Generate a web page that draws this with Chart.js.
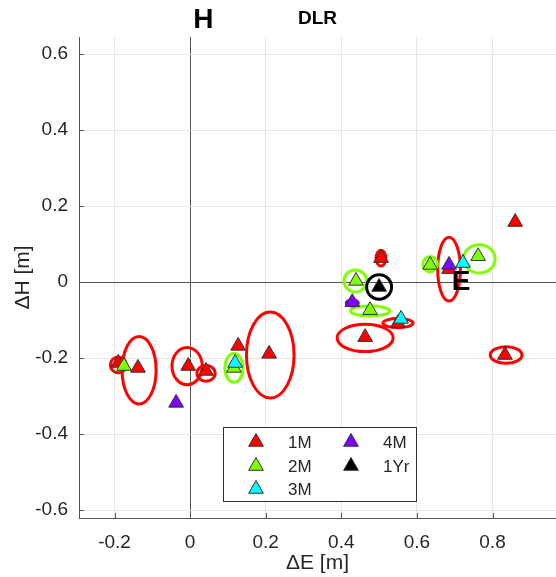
<!DOCTYPE html>
<html>
<head>
<meta charset="utf-8">
<script src="https://cdn.jsdelivr.net/npm/chart.js@4.4.0/dist/chart.umd.min.js"></script>
<style>
  html, body { margin: 0; padding: 0; background: #fff; }
  canvas { display: block; }
</style>
</head>
<body>
<canvas id="dlrChart" width="556" height="577"></canvas>
<script>
// series names / colours
const seriesNames = ['1M', '2M', '3M', '4M', '1Yr'];
const seriesColors = ['#ff0000', '#80ff00', '#00ffff', '#8000ff', '#000000'];

// station offsets [m]
const x1M = [0.860, 0.505, 0.463, 0.833, 0.685, 0.550, -0.190, -0.138, -0.005, 0.042, 0.127, 0.209];
const y1M = [0.158, 0.063, -0.145, -0.192, 0.034, -0.108, -0.213, -0.226, -0.221, -0.234, -0.168, -0.189];
const x2M = [-0.175, 0.116, 0.439, 0.476, 0.635, 0.762];
const y2M = [-0.221, -0.226, 0.003, -0.074, 0.045, 0.068];
const x3M = [0.119, 0.558, 0.722];
const y3M = [-0.213, -0.097, 0.050];
const x4M = [-0.037, 0.429, 0.685];
const y4M = [-0.318, -0.053, 0.045];
const x1Yr = [0.500];
const y1Yr = [-0.013];

// error ellipses: series index, centre, semi-axes [m]
const ellSeries = [0, 0, 0, 0, 0, 0, 0, 0, 0, 0, 1, 1, 1, 1, 1, 3, 4];
const ellX  = [0.463, 0.836, 0.685, 0.550, -0.190, -0.135, -0.008, 0.042, 0.212, 0.505, 0.116, 0.437, 0.476, 0.635, 0.765, 0.429, 0.500];
const ellY  = [-0.147, -0.192, 0.034, -0.108, -0.218, -0.232, -0.221, -0.240, -0.192, 0.063, -0.226, 0.003, -0.076, 0.047, 0.061, -0.055, -0.013];
const ellRx = [0.074, 0.042, 0.030, 0.040, 0.021, 0.045, 0.040, 0.024, 0.063, 0.013, 0.024, 0.030, 0.052, 0.019, 0.042, 0.016, 0.033];
const ellRy = [0.036, 0.022, 0.084, 0.012, 0.021, 0.089, 0.049, 0.021, 0.113, 0.021, 0.038, 0.029, 0.013, 0.020, 0.037, 0.008, 0.032];

const xTicks = [-0.2, 0, 0.2, 0.4, 0.6, 0.8];
const yTicks = [-0.6, -0.4, -0.2, 0, 0.2, 0.4, 0.6];

const FONT = "'Liberation Sans', Arial, Helvetica, sans-serif";
const TEXT = '#262626';

const xs = [x1M, x2M, x3M, x4M, x1Yr];
const ys = [y1M, y2M, y3M, y4M, y1Yr];

const datasets = seriesNames.map((name, i) => ({
  label: name,
  data: xs[i].map((x, j) => ({ x: x, y: ys[i][j] })),
  backgroundColor: seriesColors[i],
  borderColor: '#333333',
  borderWidth: 1,
  pointStyle: 'triangle',
  pointRadius: 8.5,
  pointHoverRadius: 8.5,
  order: seriesNames.length - i
}));

const ellipsePlugin = {
  id: 'ellipses',
  beforeDatasetsDraw(chart) {
    const { ctx, scales: { x, y }, chartArea } = chart;
    ctx.save();
    ctx.beginPath();
    ctx.rect(chartArea.left, chartArea.top, chartArea.right - chartArea.left, chartArea.bottom - chartArea.top);
    ctx.clip();
    // inward tick marks
    ctx.strokeStyle = '#555';
    ctx.lineWidth = 1;
    xTicks.forEach(v => {
      const px = Math.round(x.getPixelForValue(v)) + 0.5;
      ctx.beginPath();
      ctx.moveTo(px, chartArea.bottom);
      ctx.lineTo(px, chartArea.bottom - 5);
      ctx.stroke();
    });
    yTicks.forEach(v => {
      const py = Math.round(y.getPixelForValue(v)) + 0.5;
      ctx.beginPath();
      ctx.moveTo(chartArea.left, py);
      ctx.lineTo(chartArea.left + 5, py);
      ctx.stroke();
    });
    ctx.lineWidth = 3;
    ellX.forEach((cx, i) => {
      const px = x.getPixelForValue(cx);
      const py = y.getPixelForValue(ellY[i]);
      const rx = Math.abs(x.getPixelForValue(cx + ellRx[i]) - px);
      const ry = Math.abs(y.getPixelForValue(ellY[i] + ellRy[i]) - py);
      ctx.strokeStyle = seriesColors[ellSeries[i]];
      ctx.beginPath();
      ctx.ellipse(px, py, rx, ry, 0, 0, Math.PI * 2);
      ctx.stroke();
    });
    ctx.restore();
  },
  afterDraw(chart) {
    const { ctx, scales: { x, y } } = chart;
    ctx.save();
    // title and axis letters
    ctx.fillStyle = '#000';
    ctx.textAlign = 'center';
    ctx.textBaseline = 'middle';
    ctx.font = 'bold 19px ' + FONT;
    ctx.fillText('DLR', (chart.chartArea.left + chart.chartArea.right) / 2, 19);
    ctx.font = 'bold 28px ' + FONT;
    ctx.fillText('H', x.getPixelForValue(0.035), y.getPixelForValue(0.69));
    ctx.fillText('E', x.getPixelForValue(0.717), y.getPixelForValue(0.0));

    // legend
    const bx = 223, by = 427, bw = 193, bh = 74;
    ctx.fillStyle = '#fff';
    ctx.fillRect(bx, by, bw, bh);
    ctx.strokeStyle = '#333';
    ctx.lineWidth = 1;
    ctx.strokeRect(bx + 0.5, by + 0.5, bw, bh);
    const rows = [441, 465, 488];
    ctx.font = '17px ' + FONT;
    ctx.textAlign = 'left';
    seriesNames.forEach((name, i) => {
      const col = Math.floor(i / 3);
      const row = i % 3;
      const mx = col === 0 ? 256 : 351;
      const tx = col === 0 ? 288 : 383;
      ctx.fillStyle = seriesColors[i];
      ctx.strokeStyle = '#333';
      ctx.lineWidth = 1;
      Chart.helpers.drawPoint(ctx, { pointStyle: 'triangle', radius: 8.5, borderWidth: 1, rotation: 0 }, mx, rows[row] + 1);
      ctx.fillStyle = TEXT;
      ctx.fillText(name, tx, rows[row] + 2);
    });
    ctx.restore();
  }
};

new Chart(document.getElementById('dlrChart').getContext('2d'), {
  type: 'scatter',
  data: { datasets: datasets },
  options: {
    responsive: false,
    animation: false,
    devicePixelRatio: 1,
    layout: { autoPadding: false, padding: { left: 0, right: 0, top: 37, bottom: 0 } },
    plugins: {
      legend: { display: false },
      tooltip: { enabled: false }
    },
    scales: {
      x: {
        type: 'linear',
        min: -0.294,
        max: 0.968,
        afterBuildTicks: s => { s.ticks = xTicks.map(v => ({ value: v })); },
        afterFit: s => { s.height = 59; s.paddingLeft = 0; s.paddingRight = 0; },
        ticks: {
          padding: 13,
          color: TEXT,
          font: { family: FONT, size: 19 },
          callback: v => (v === 0 ? '0' : Number(v).toFixed(1))
        },
        grid: {
          drawTicks: false,
          color: c => (c.tick && c.tick.value === 0 ? '#555555' : '#e6e6e6'),
          lineWidth: 1
        },
        border: { display: true, color: '#555555', width: 1 },
        title: {
          display: true,
          text: '\u0394E [m]',
          color: TEXT,
          font: { family: FONT, size: 21 },
          padding: { top: 0, bottom: 1 }
        }
      },
      y: {
        type: 'linear',
        min: -0.621,
        max: 0.645,
        afterBuildTicks: s => { s.ticks = yTicks.map(v => ({ value: v })); },
        afterFit: s => { s.width = 79; s.paddingTop = 0; s.paddingBottom = 0; },
        ticks: {
          padding: 11,
          color: TEXT,
          font: { family: FONT, size: 19 },
          callback: v => (v === 0 ? '0' : Number(v).toFixed(1))
        },
        grid: {
          drawTicks: false,
          color: c => (c.tick && c.tick.value === 0 ? '#555555' : '#e6e6e6'),
          lineWidth: 1
        },
        border: { display: true, color: '#555555', width: 1 },
        title: {
          display: true,
          text: '\u0394H [m]',
          color: TEXT,
          font: { family: FONT, size: 21 },
          padding: { top: 11, bottom: 0 }
        }
      }
    }
  },
  plugins: [ellipsePlugin]
});
</script>
</body>
</html>
